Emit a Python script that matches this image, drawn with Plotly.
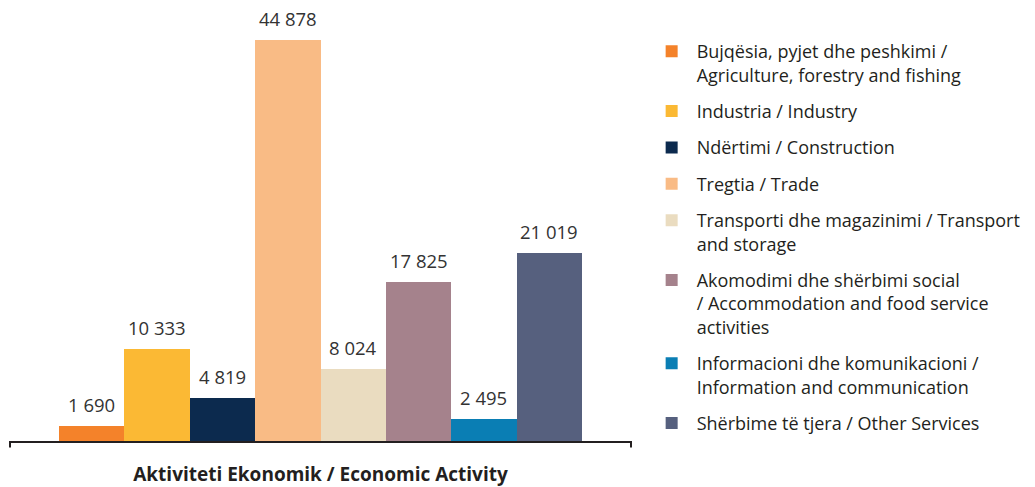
import plotly.graph_objects as go

categories = [
    "Bujqësia, pyjet dhe peshkimi /<br>Agriculture, forestry and fishing",
    "Industria / Industry",
    "Ndërtimi / Construction",
    "Tregtia / Trade",
    "Transporti dhe magazinimi / Transport<br>and storage",
    "Akomodimi dhe shërbimi social<br>/ Accommodation and food service<br>activities",
    "Informacioni dhe komunikacioni /<br>Information and communication",
    "Shërbime të tjera / Other Services",
]
values = [1690, 10333, 4819, 44878, 8024, 17825, 2495, 21019]
colors = ["#F4822A", "#FBB934", "#0C2A4E", "#F9BB85", "#EADCC0", "#A5828C", "#0A7EB4", "#56607E"]
axis_title = "Aktiviteti Ekonomik / Economic Activity"

FONT = "Open Sans"
fig = go.Figure()
for i, (c, v, col) in enumerate(zip(categories, values, colors)):
    fig.add_trace(go.Bar(x=[i], y=[v], name=c, marker=dict(color=col, line=dict(width=0)),
                         width=1, legendgroup=str(i), hoverinfo="y"))
    fig.add_annotation(x=i, y=v, text=f"{v:,}".replace(",", " "), showarrow=False,
                       yanchor="bottom", yshift=7, font=dict(family=FONT, size=18.5, color="#333333"))

fig.update_layout(
    width=1035, height=487,
    margin=dict(l=10, r=404, t=10, b=46, autoexpand=False),
    plot_bgcolor="white", paper_bgcolor="white",
    bargap=0, barmode="overlay",
    showlegend=True,
    legend=dict(x=1.0252, xref="paper", y=0.9466, yref="paper", yanchor="top", xanchor="left",
                font=dict(family=FONT, size=18, color="#231F20"), valign="top",
                tracegroupgap=10, itemwidth=40, traceorder="grouped", maxheight=1),
    xaxis=dict(range=[-1.25, 8.25], showticklabels=False, showgrid=False, zeroline=False,
               showline=True, linecolor="#231F20", linewidth=2, ticks="",
               title=dict(text=f"<b>{axis_title}</b>", font=dict(family=FONT, size=19, color="#231F20"), standoff=29)),
    yaxis=dict(range=[0, 48236], visible=False),
)
for xp in (0, 1):
    fig.add_shape(type="line", xref="paper", yref="paper", x0=xp, x1=xp, y0=0, y1=-0.015,
                  line=dict(color="#231F20", width=2))

fig.write_html("out.html", config={"displayModeBar": False},
               post_script="document.body.style.margin='0';")
